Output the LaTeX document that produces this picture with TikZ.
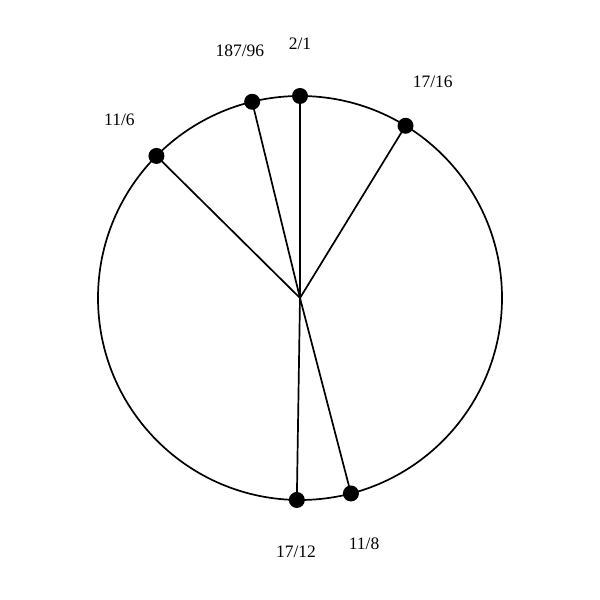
\documentclass[tikz,border=0pt]{standalone}
\usepackage{fontspec}
\setmainfont{Liberation Serif}
\usetikzlibrary{calc}
\begin{document}
\begin{tikzpicture}[x=1pt,y=1pt,
  ring/.style={draw=black,line width=1.7pt},
  spoke/.style={draw=black,line width=1.7pt},
  dotnode/.style={circle,fill=black,inner sep=0pt,minimum size=16pt},
  lab/.style={font=\fontsize{17.5}{20}\selectfont,inner sep=0pt}]
\useasboundingbox (0,0) rectangle (600,600);
\coordinate (c) at (300,302);
\draw[ring] (c) circle[radius=202];
\foreach \n/\a/\t in {a/90/2\slash 1,b/103.7/187\slash 96,d/58.5/17\slash 16,e/135.3/11\slash 6,f/-90.9/17\slash 12,g/-75.4/11\slash 8}{
  \node[dotnode] (p\n) at ($(c)+(\a:202)$) {};
  \draw[spoke] (c) -- (p\n.center);
  \node[lab] (l\n) at ($(c)+(\a:254)$) {\t};
}
\end{tikzpicture}
\end{document}
